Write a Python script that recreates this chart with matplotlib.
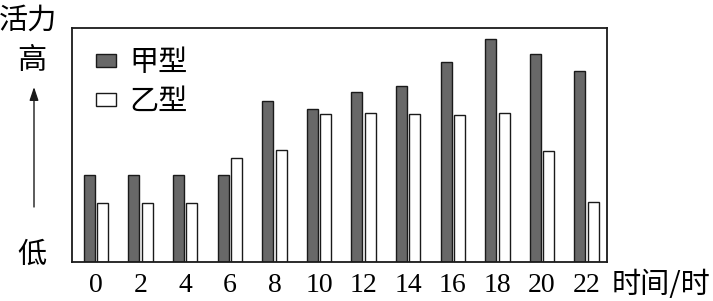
import matplotlib
matplotlib.use("Agg")
import matplotlib.pyplot as plt
import numpy as np

plt.rcParams['font.family'] = ['Noto Sans CJK SC', 'DejaVu Sans']

hours = ['0', '2', '4', '6', '8', '10', '12', '14', '16', '18', '20', '22']
type_a = [87, 87, 87, 87, 161, 153, 170, 176, 200, 223, 208, 191]   # 甲型
type_b = [59, 59, 59, 104, 112, 148, 149, 148, 147, 149, 111, 60]   # 乙型
series_names = ['甲型', '乙型']

fig = plt.figure(figsize=(7.13, 3.01), dpi=100)
ax = fig.add_axes([72/713, 39/301, 535/713, 234/301])

x = np.arange(len(hours))
w = 0.247
off = 0.15
ax.bar(x - off, type_a, width=w, color='#686868', edgecolor='#1a1a1a',
       linewidth=1.0, label=series_names[0])
ax.bar(x + off, type_b, width=w, color='white', edgecolor='#1a1a1a',
       linewidth=1.0, label=series_names[1])

ax.set_xlim(-0.54, 11.46)
ax.set_ylim(0, 234)
ax.set_yticks([])
ax.set_xticks(x)
ax.set_xticklabels(hours, family=['Liberation Serif'], fontsize=20)
ax.tick_params(axis='x', length=0, pad=8)
for s in ax.spines.values():
    s.set_linewidth(1.3)
    s.set_color('#1a1a1a')

ax.legend(loc='upper left', bbox_to_anchor=(0.044, 0.915), frameon=False,
          fontsize=21, handlelength=0.7, handleheight=0.3,
          handletextpad=0.45, labelspacing=0.3, borderpad=0, borderaxespad=0)

def fx(px):
    return px / 713
def fy(py):
    return 1 - py / 301

CJK = 21
fig.text(fx(28), fy(21), '活力', ha='center', va='center', fontsize=CJK)
fig.text(fx(32), fy(61), '高', ha='center', va='center', fontsize=CJK)
fig.text(fx(32), fy(255), '低', ha='center', va='center', fontsize=CJK)
fig.text(fx(661), fy(285), '时间/时', ha='center', va='center', fontsize=CJK)
fig.add_artist(matplotlib.patches.FancyArrowPatch(
    (fx(34), fy(207)), (fx(34), fy(87)), transform=fig.transFigure,
    arrowstyle='-|>,head_length=8,head_width=2.7', color='#1a1a1a',
    linewidth=1.0, shrinkA=0, shrinkB=0))

fig.savefig('out.png', dpi=100)
